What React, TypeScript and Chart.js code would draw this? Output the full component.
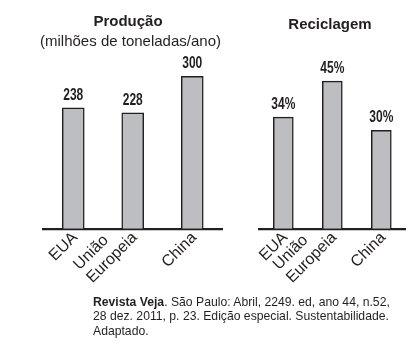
import React, { useEffect, useRef } from "react";
import { Chart, registerables } from "chart.js";

Chart.register(...registerables);

// ---- data ----
const categories: string[][] = [["EUA"], ["União", "Europeia"], ["China"]];
const productionValues = [238, 228, 300];
const productionLabels = ["238", "228", "300"];
const recyclingValues = [34, 45, 30];
const recyclingLabels = ["34%", "45%", "30%"];
const productionTitle = "Produção";
const productionSubtitle = "(milhões de toneladas/ano)";
const recyclingTitle = "Reciclagem";

const INK = "#231f20";
const BAR_FILL = "#bdbec1";
const SANS = '"Liberation Sans", Arial, Helvetica, sans-serif';

// value labels above bars, titles, and rotated category labels placed on the x scale
const annotPlugin = {
  id: "annot",
  afterDatasetsDraw(chart: any, _args: any, opts: any) {
    const ctx = chart.ctx as CanvasRenderingContext2D;
    const meta = chart.getDatasetMeta(0);
    ctx.save();
    ctx.fillStyle = INK;
    ctx.textAlign = "center";
    ctx.textBaseline = "alphabetic";
    ctx.font = `bold 16px ${SANS}`;
    const sx = 0.75; // condensed look
    meta.data.forEach((bar: any, i: number) => {
      ctx.save();
      ctx.translate(bar.x, bar.y - 8);
      ctx.scale(sx, 1);
      ctx.fillText(opts.labels[i], 0, 0);
      ctx.restore();
    });
    (opts.titles || []).forEach((t: any) => {
      ctx.font = t.font;
      ctx.fillText(t.text, t.x, t.y);
    });

    // category labels, rotated 45°, lines stacked upward, left-aligned
    const xs = chart.scales.x;
    const lh = 18.5;
    ctx.font = `16px ${SANS}`;
    ctx.textBaseline = "middle";
    ctx.textAlign = "left";
    (chart.data.labels as string[][]).forEach((lines: string[], i: number) => {
      const px = xs.getPixelForValue(i);
      const maxW = Math.max(...lines.map((l) => ctx.measureText(l).width));
      ctx.save();
      ctx.translate(px + 2, xs.top + 6.5);
      ctx.rotate(-Math.PI / 4);
      const n = lines.length;
      lines.forEach((line, k) => {
        ctx.fillText(line, -maxW, (k - (n - 1)) * lh);
      });
      ctx.restore();
    });
    ctx.restore();
  },
};

function makeConfig(
  values: number[],
  labels: string[],
  max: number,
  padding: any,
  barThickness: number,
  xHeight: number,
  titles: any[]
): any {
  return {
    type: "bar",
    data: {
      labels: categories,
      datasets: [
        {
          data: values,
          backgroundColor: BAR_FILL,
          borderColor: INK,
          borderWidth: 1.5,
          barThickness,
        },
      ],
    },
    plugins: [annotPlugin],
    options: {
      responsive: false,
      animation: false,
      events: [],
      layout: { padding },
      plugins: {
        legend: { display: false },
        tooltip: { enabled: false },
        title: { display: false },
        annot: { labels, titles },
      },
      scales: {
        x: {
          grid: { display: false, drawTicks: false },
          border: { display: true, color: INK, width: 2.2 },
          ticks: { display: false },
          afterFit: (s: any) => {
            s.height = xHeight;
          },
        },
        y: { display: false, min: 0, max },
      },
    },
  };
}

function BarChart(props: { width: number; height: number; config: any }) {
  const ref = useRef<HTMLCanvasElement | null>(null);
  useEffect(() => {
    if (!ref.current) return;
    const chart = new Chart(ref.current, props.config);
    return () => chart.destroy();
  }, []);
  return (
    <canvas
      ref={ref}
      width={props.width}
      height={props.height}
      style={{ display: "block", width: props.width, height: props.height }}
    />
  );
}

export default function App() {
  const BASE = 228.7;
  const H = 300;
  const leftCfg = makeConfig(
    productionValues,
    productionLabels,
    350,
    { top: 51, left: 43.5, right: 18, bottom: 0 },
    22,
    H - BASE,
    [
      { text: productionTitle, x: 128, y: 25.5, font: `bold 15px ${SANS}` },
      { text: productionSubtitle, x: 130.5, y: 45.5, font: `15px ${SANS}` },
    ]
  );
  const rightCfg = makeConfig(
    recyclingValues,
    recyclingLabels,
    50,
    { top: 64.7, left: 18.8, right: 12.2, bottom: 0 },
    20,
    H - BASE,
    [{ text: recyclingTitle, x: 330 - 240, y: 29, font: `bold 15px ${SANS}` }]
  );
  return (
    <div
      style={{
        position: "absolute",
        left: 0,
        top: 0,
        width: 418,
        height: 353,
        background: "#fff",
        overflow: "hidden",
      }}
    >
      <div style={{ position: "absolute", left: 0, top: 0 }}>
        <BarChart width={240} height={H} config={leftCfg} />
      </div>
      <div style={{ position: "absolute", left: 240, top: 0 }}>
        <BarChart width={178} height={H} config={rightCfg} />
      </div>
      <div
        style={{
          position: "absolute",
          left: 93,
          top: 294.5,
          fontFamily: SANS,
          fontSize: 12.2,
          lineHeight: "14.5px",
          color: INK,
          whiteSpace: "nowrap",
        }}
      >
        <b>Revista Veja</b>. São Paulo: Abril, 2249. ed, ano 44, n.52,
        <br />
        28 dez. 2011, p. 23. Edição especial. Sustentabilidade.
        <br />
        Adaptado.
      </div>
    </div>
  );
}
